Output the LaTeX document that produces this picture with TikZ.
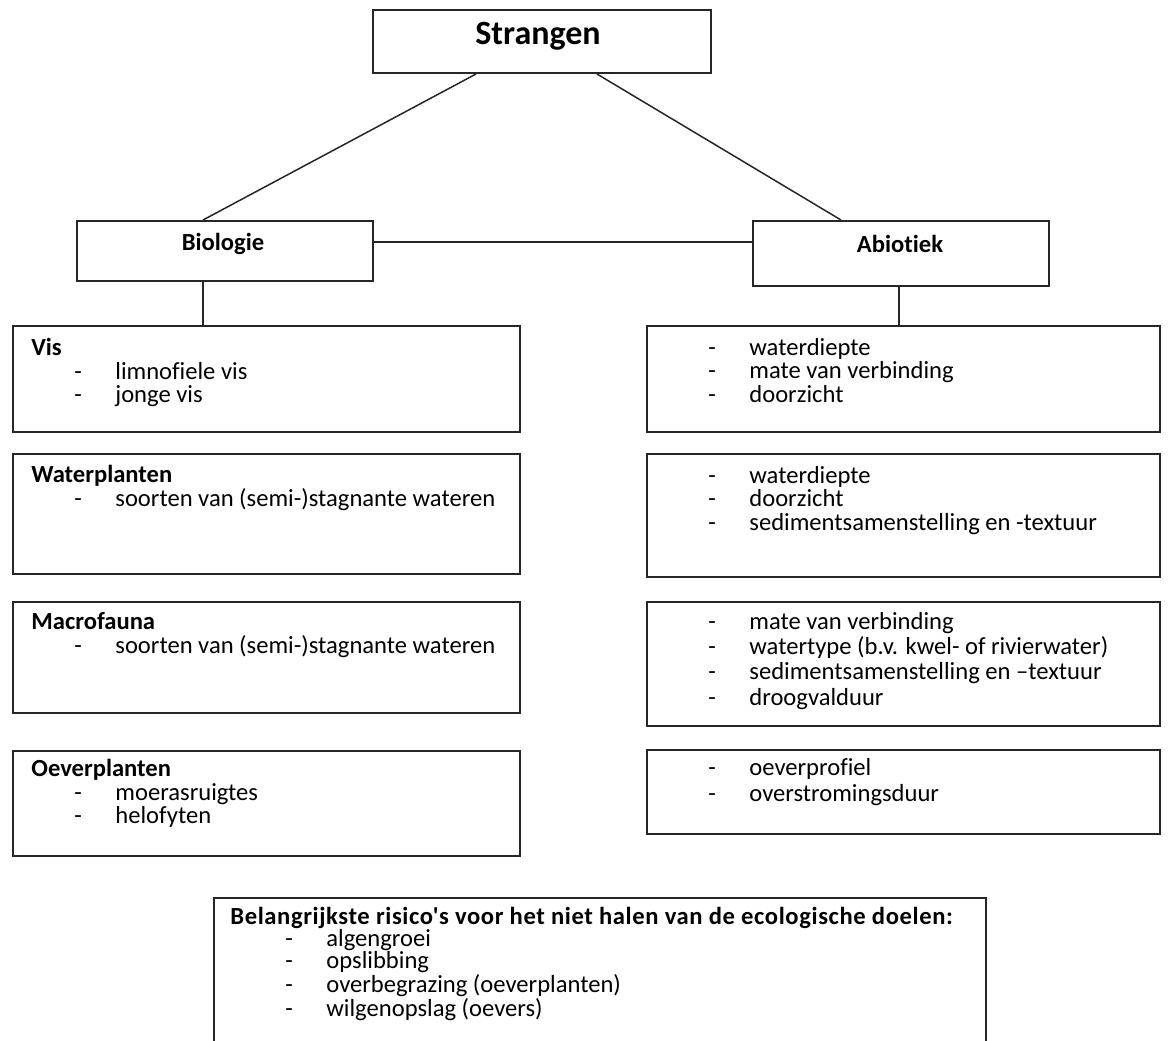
\documentclass[tikz,border=0pt]{standalone}
\usepackage{fontspec}
\setmainfont{Carlito}[Ligatures={TeXOff,NoCommon}]
\usetikzlibrary{fit,calc}
% list item: indent, dash, then the text
\newcommand\itm[2][21.5pt]{\hspace*{#1}\makebox[20.5pt][l]{-}#2}
\begin{document}
\begin{tikzpicture}[x=0.5pt,y=-0.5pt,
  box/.style={draw=black!85, line width=1pt, inner sep=0pt},
  link/.style={draw=black!85, line width=0.75pt},
  txt/.style={anchor=north west, inner sep=0pt, align=left,
    font=\fontsize{12.3}{11.75}\selectfont},
  head/.style={inner sep=0pt, font=\fontsize{12.3}{14}\selectfont\bfseries}]
\useasboundingbox (0,0) rectangle (1176,1040);
\clip (0,0) rectangle (1176,1040);

% top level
\node[box, fit={(373,10) (711,73)}] (str) {};
\node[inner sep=0pt, font=\fontsize{17}{20}\selectfont\bfseries] (strt) at (538,36) {Strangen};

\node[box, fit={(77,221) (373,281)}] (bio) {};
\node[head] (biot) at (223,244) {Biologie};
\node[box, fit={(753,221) (1049,286)}] (abio) {};
\node[head] (abiot) at (900,244) {Abiotiek};

% biology boxes
\node[box, fit={(13,326) (520,432)}] (vis) {};
\node[txt] (vist) at (31,338) {\textbf{Vis}\\ \itm{limnofiele vis}\\ \itm{jonge vis}};
\node[box, fit={(13,454) (520,574)}] (wpl) {};
\node[txt] (wplt) at (31,465) {\textbf{Waterplanten}\\ \itm{soorten van (semi-)stagnante wateren}};
\node[box, fit={(13,602) (520,713)}] (mfa) {};
\node[txt] (mfat) at (31,612) {\textbf{Macrofauna}\\ \itm{soorten van (semi-)stagnante wateren}};
\node[box, fit={(13,751) (520,856)}] (opl) {};
\node[txt] (oplt) at (31,759) {\textbf{Oeverplanten}\\ \itm{moerasruigtes}\\ \itm{helofyten}};

% abiotic boxes
\node[box, fit={(647,326) (1160,432)}] (ab1) {};
\node[txt] (ab1t) at (665,338) {\itm{waterdiepte}\\ \itm{mate van verbinding}\\ \itm{doorzicht}};
\node[box, fit={(647,454) (1160,577)}] (ab2) {};
\node[txt] (ab2t) at (665,466) {\itm{waterdiepte}\\ \itm{doorzicht}\\ \itm{sedimentsamenstelling en -textuur}};
\node[box, fit={(647,602) (1160,726)}] (ab3) {};
\node[txt, font=\fontsize{12.3}{12.6}\selectfont] (ab3t) at (665,612)
  {\itm{mate van verbinding}\\ \itm{watertype (b.v. kwel- of rivierwater)}\\
   \itm{sedimentsamenstelling en –textuur}\\ \itm{droogvalduur}};
\node[box, fit={(647,750) (1160,834)}] (ab4) {};
\node[txt, font=\fontsize{12.3}{13}\selectfont] (ab4t) at (665,758) {\itm{oeverprofiel}\\ \itm{overstromingsduur}};

% risks
\node[box, fit={(214,898) (986,1070)}] (risk) {};
\node[txt, font=\fontsize{12.3}{10.9}\selectfont] (riskt) at (230,907)
  {{\addfontfeature{LetterSpace=2.5}\bfseries Belangrijkste risico's voor het niet halen van de ecologische doelen:}\\
   \itm[27.5pt]{algengroei}\\ \itm[27.5pt]{opslibbing}\\
   \itm[27.5pt]{overbegrazing (oeverplanten)}\\ \itm[27.5pt]{wilgenopslag (oevers)}};

% connectors
\draw[link] ($(str.south west)+(104,0)$) -- ($(bio.north west)+(127,0)$);
\draw[link] ($(str.south west)+(225,0)$) -- ($(abio.north west)+(89,0)$);
\draw[link] ($(bio.north east)+(0,22)$) -- ($(abio.north west)+(0,22)$);
\draw[link] ($(bio.south west)+(127,0)$) -- ($(vis.north west)+(191,0)$);
\draw[link] ($(abio.south west)+(147,0)$) -- ($(ab1.north west)+(253,0)$);
\end{tikzpicture}
\end{document}
